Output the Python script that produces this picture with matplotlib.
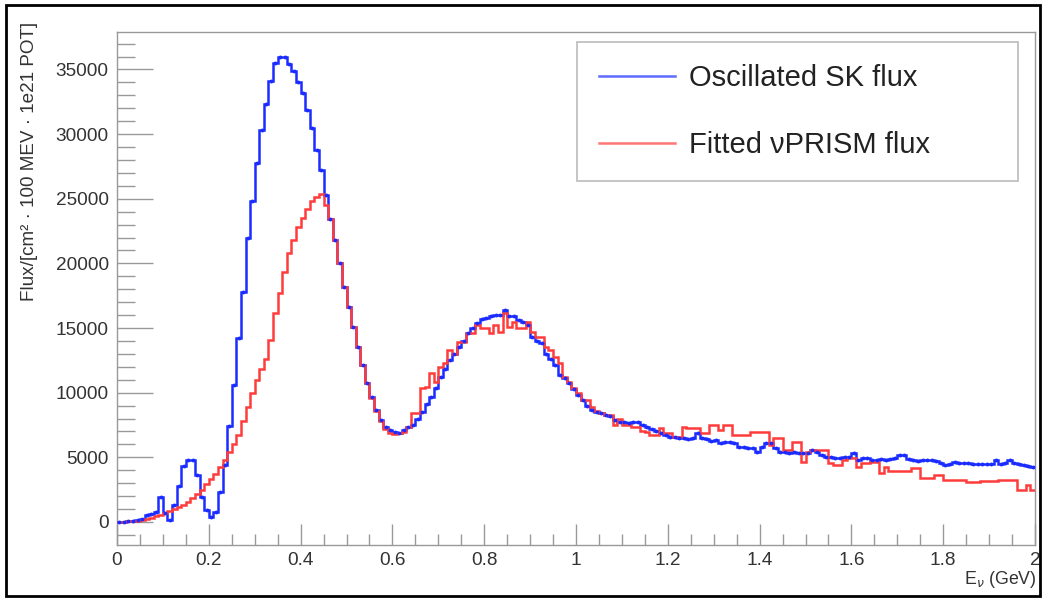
import numpy as np
import matplotlib
matplotlib.use("Agg")
import matplotlib.pyplot as plt
from matplotlib.patches import Rectangle
from matplotlib.ticker import MultipleLocator

plt.rcParams['font.family'] = ['Liberation Sans', 'DejaVu Sans']

# histogram binning: 200 bins of 10 MeV from 0 to 2 GeV
e_min, e_max, n_bins = 0.0, 2.0, 200

# oscillated SK flux (blue), read bin by bin from the picture
sk_flux = [
    0, 30, 60, 100, 150, 250, 550, 600, 800, 1950,
    700, 150, 1300, 2800, 4300, 4800, 4800, 3600, 1950, 900,
    400, 800, 2350, 4400, 7400, 10600, 14200, 17800, 22000, 24800,
    27800, 30300, 32300, 34100, 35500, 36000, 36000, 35400, 34900, 34000,
    33200, 31900, 30500, 28800, 27200, 25300, 23400, 21800, 20000, 18200,
    16600, 15100, 13500, 12150, 10760, 9700, 8670, 7900, 7350, 7100,
    6970, 6900, 7100, 7350, 7500, 8000, 8500, 9100, 9700, 10400,
    11200, 11800, 12500, 13000, 13500, 14000, 14600, 15000, 15400, 15700,
    15800, 15900, 16000, 16000, 16400, 15900, 15900, 15600, 15500, 15250,
    14300, 14000, 13850, 13000, 12600, 12150, 11400, 11100, 10760, 10300,
    9800, 9400, 9000, 8700, 8500, 8400, 8300, 8200, 7900, 7740,
    7700, 7650, 7700, 7740, 7500, 7350, 7200, 7000, 6890, 6750,
    6600, 6550, 6500, 6500, 6450, 6500, 6900, 6500, 6400, 6250,
    6350, 6100, 6150, 6200, 6100, 5800, 5800, 5750, 5700, 5400,
    5800, 6100, 6100, 5700, 5400, 5400, 5350, 5400, 5340, 5300,
    5340, 5570, 5400, 5200, 5030, 5000, 4950, 4950, 5000, 5030,
    5340, 4800, 4950, 4950, 4800, 4800, 4850, 4800, 4900, 4950,
    5190, 5190, 4900, 4800, 4750, 4800, 4800, 4800, 4700, 4600,
    4400, 4450, 4640, 4600, 4560, 4560, 4500, 4500, 4520, 4480,
    4500, 4800, 4500, 4550, 4800, 4550, 4500, 4400, 4350, 4260,
]

# fitted nuPRISM flux (red)
prism_flux = [
    0, 20, 40, 60, 100, 150, 250, 330, 450, 560,
    680, 820, 980, 1150, 1350, 1580, 1850, 2150, 2500, 2900,
    3300, 3750, 4250, 4800, 5400, 6000, 6700, 7800, 8900, 10000,
    11000, 11800, 12600, 14100, 16200, 17700, 19300, 20800, 21800, 22800,
    23500, 24200, 24800, 25100, 25400, 24500, 23400, 21800, 20000, 18200,
    16600, 15100, 13500, 12150, 10760, 9600, 8600, 7800, 7200, 6900,
    6800, 6850, 6950, 7350, 8400, 8400, 10370, 10450, 11500, 10800,
    12000, 12300, 13300, 13000, 13900, 13900, 14600, 14600, 15250, 15000,
    15000, 14600, 15250, 14700, 16200, 15100, 15500, 15000, 15000, 15500,
    14700, 14300, 14300, 13550, 13300, 12800, 12300, 11200, 10800, 10400,
    10000, 9440, 9440, 8900, 8600, 8400, 8300, 8300, 7500, 8000,
    7500, 7500, 7350, 7350, 7000, 6970, 6730, 6730, 7280, 6890,
    6890, 6580, 6580, 7350, 7280, 7280, 7280, 6890, 6890, 7500,
    7500, 7100, 7500, 7500, 6730, 6730, 6730, 6730, 6970, 6970,
    6970, 6970, 5960, 6500, 6500, 5570, 5570, 6200, 6200, 4640,
    5400, 5570, 5570, 5600, 5600, 4560, 4400, 4400, 4800, 4950,
    4950, 4260, 4560, 4560, 4640, 4640, 3790, 4260, 3950, 3950,
    3950, 3950, 3950, 4180, 4180, 3400, 3400, 3400, 3640, 3640,
    3250, 3250, 3250, 3250, 3250, 3100, 3100, 3100, 3150, 3150,
    3200, 3150, 3250, 3250, 3250, 3250, 2480, 2480, 2860, 2480,
]

labels = ["Oscillated SK flux", "Fitted \u03bdPRISM flux"]

edges = np.linspace(e_min, e_max, n_bins + 1)
centers = 0.5 * (edges[1:] + edges[:-1])

blue = "#1a2cff"
red = "#ff3c3c"

fig = plt.figure(figsize=(10.42, 6.0), dpi=100)
ax = fig.add_axes([117 / 1042, 1 - 545 / 600, 918 / 1042, 513 / 600])

ax.stairs(sk_flux, edges, baseline=None, color=blue, lw=1.8, label=labels[0], zorder=3)
ax.stairs(prism_flux, edges, baseline=None, color=red, lw=1.8, label=labels[1], zorder=4)
ax.plot(centers, sk_flux, "o", color=blue, ms=2.8, mew=0, zorder=5)

ax.set_xlim(e_min, e_max)
ax.set_ylim(-1780, 37900)

ax.xaxis.set_major_locator(MultipleLocator(0.2))
ax.xaxis.set_minor_locator(MultipleLocator(0.05))
ax.yaxis.set_major_locator(MultipleLocator(5000))
ax.yaxis.set_minor_locator(MultipleLocator(1000))
ax.xaxis.set_major_formatter(plt.FuncFormatter(lambda v, p: "%g" % round(v, 2)))

ax.tick_params(axis="y", which="major", direction="in", length=26, width=1,
               color="#999999", labelsize=13.7, labelcolor="#333333", pad=6)
ax.tick_params(axis="y", which="minor", direction="in", length=13, width=1, color="#999999")
ax.tick_params(axis="x", which="major", direction="in", length=15, width=1,
               color="#999999", labelsize=13.7, labelcolor="#333333", pad=5)
ax.tick_params(axis="x", which="minor", direction="in", length=8, width=1, color="#999999")

for s in ax.spines.values():
    s.set_color("#999999")
    s.set_linewidth(1)

leg = ax.legend(loc="upper left", bbox_to_anchor=(0.501, 0.717, 0.4805, 0.2635),
                mode="expand", borderaxespad=0, fontsize=21, frameon=True,
                fancybox=False, edgecolor="#aaaaaa", handlelength=2.6,
                handletextpad=0.5, labelspacing=1.35, borderpad=0.75)
leg.get_frame().set_linewidth(1.2)
for t in leg.get_texts():
    t.set_color("#222222")
for h in leg.legend_handles:
    h.set_alpha(0.7)

fig.text(30 / 1042, 1 - 22 / 600, "Flux/[cm\u00b2 \u00b7 100 MEV \u00b7 1e21 POT]",
         rotation=90, ha="center", va="top", fontsize=13.6, color="#333333")
fig.text(1037 / 1042, 1 - 580 / 600, r"E$_{\nu}$ (GeV)", ha="right", va="center",
         fontsize=12.8, color="#333333")

# black frame around the whole picture
fig.add_artist(Rectangle((6 / 1042, 4 / 600), 1034 / 1042, 591 / 600,
                         transform=fig.transFigure, fill=False, ec="black", lw=2))

fig.savefig("out.png", dpi=100)
